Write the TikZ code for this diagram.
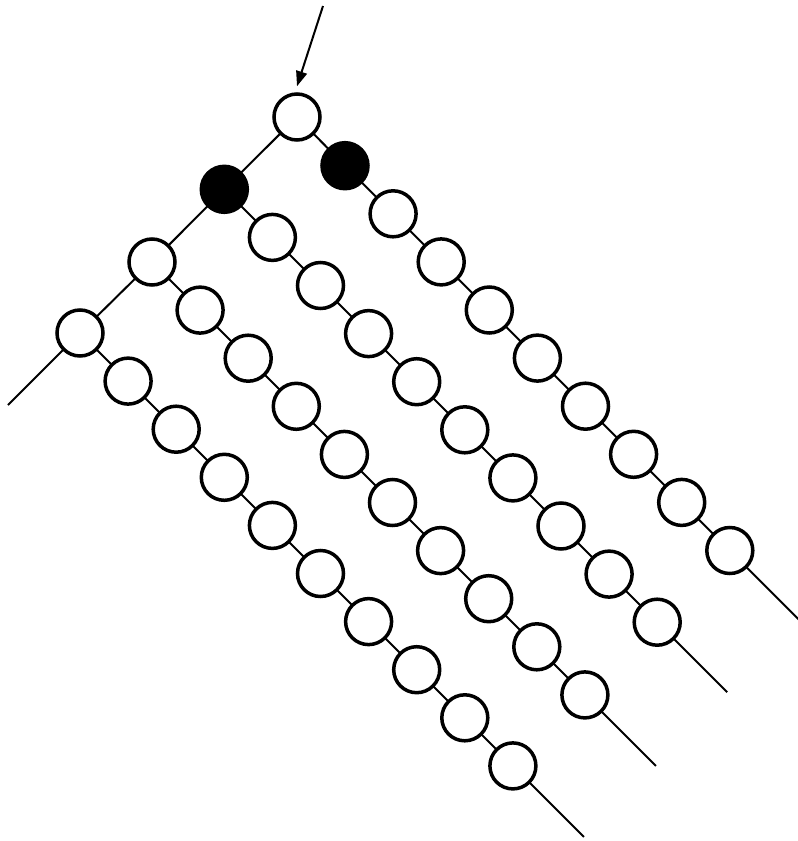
\documentclass[tikz,border=0pt]{standalone}
\usetikzlibrary{arrows.meta,calc}
\begin{document}
\begin{tikzpicture}[x=1pt,y=-1pt,
  bead/.style={circle,draw=black,line width=3.5pt,fill=white,minimum size=46pt,inner sep=0pt},
  darkbead/.style={bead,fill=black},
  link/.style={line width=2pt},
  pointer/.style={line width=2pt,-{Triangle[length=15pt,width=11pt]}}]
\useasboundingbox (0,0) rectangle (798,841);
\def\st{48.1}
% main diagonal nodes
\coordinate (L1p) at (224.3,189.3);
\coordinate (L2p) at (152,262);
\coordinate (L3p) at (80,333);
\coordinate (Rp) at (345,165.7);
\coordinate (tail) at (8,405);
\coordinate (arrstart) at (323,6);
% chain positions and end coordinates
\foreach \i in {1,...,8} \coordinate (r\i) at ($(Rp)+(\i*\st,\i*\st)$);
\foreach \i in {1,...,9} {
  \coordinate (a\i) at ($(L1p)+(\i*\st,\i*\st)$);
  \coordinate (b\i) at ($(L2p)+(\i*\st,\i*\st)$);
  \coordinate (c\i) at ($(L3p)+(\i*\st,\i*\st)$);
}
\coordinate (rend) at ($(r8)+(69,69)$);
\coordinate (aend) at ($(a9)+(70,70)$);
\coordinate (bend) at ($(b9)+(71,71)$);
\coordinate (cend) at ($(c9)+(71,71)$);
% connectors
\draw[link] (297,117) coordinate (Tp) -- (L1p) -- (L2p) -- (L3p) -- (tail);
\draw[link] (Tp) -- (Rp) -- (rend);
\draw[link] (L1p) -- (aend);
\draw[link] (L2p) -- (bend);
\draw[link] (L3p) -- (cend);
% beads
\node[bead] (T) at (Tp) {};
\node[darkbead] (L1) at (L1p) {};
\node[darkbead] (R) at (Rp) {};
\node[bead] (L2) at (L2p) {};
\node[bead] (L3) at (L3p) {};
\foreach \i in {1,...,8} \node[bead] (R\i) at (r\i) {};
\foreach \i in {1,...,9} {
  \node[bead] (A\i) at (a\i) {};
  \node[bead] (B\i) at (b\i) {};
  \node[bead] (C\i) at (c\i) {};
}
\draw[pointer] (arrstart) -- ($(T.north)+(0,-6)$);
\end{tikzpicture}
\end{document}
